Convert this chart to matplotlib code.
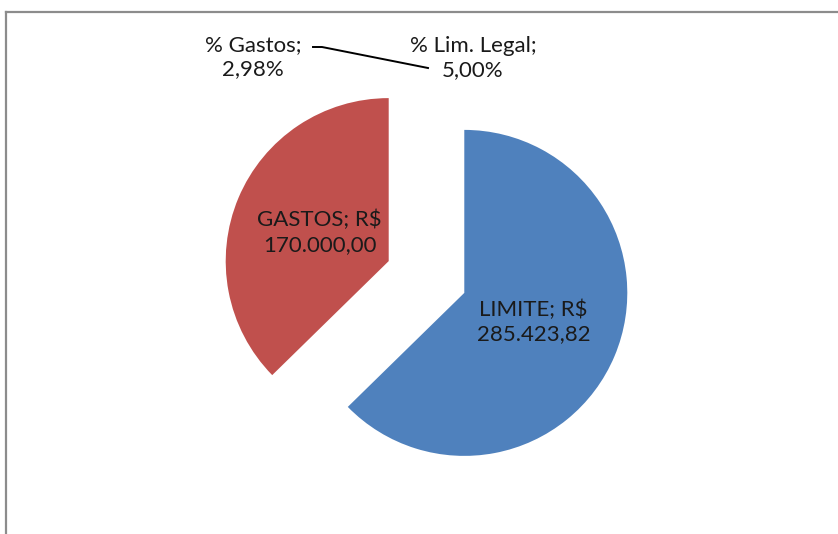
import matplotlib.pyplot as plt
from matplotlib.lines import Line2D
import numpy as np

plt.rcParams['font.family'] = ['Lato', 'DejaVu Sans']

# data
categories = ['LIMITE', 'GASTOS', '% Gastos', '% Lim. Legal']
values = [285423.82, 170000.00, 0.0298, 0.05]
colors = ['#4F81BD', '#C0504D', '#9BBB59', '#8064A2']


def brl(v):
    s = f'{v:,.2f}'
    return s.replace(',', 'X').replace('.', ',').replace('X', '.')


fig = plt.figure(figsize=(8.38, 5.34), dpi=100)
ax = fig.add_axes([0, 0, 1, 1])

W, H = 838, 534
cx, cy, r = 426.5, 257, 163
wedges, _ = ax.pie(values, colors=colors, startangle=90, counterclock=False,
                   explode=[41, 41, 0, 0], center=(cx, cy), radius=r,
                   wedgeprops=dict(linewidth=0))
ax.set_xlim(0, W)
ax.set_ylim(0, H)
ax.set_aspect('equal')
ax.axis('off')

# data labels inside the two large slices
for w, cat, v in zip(wedges[:2], categories[:2], values[:2]):
    mid = np.deg2rad((w.theta1 + w.theta2) / 2)
    x0, y0 = w.center
    ax.text(x0 + 0.46 * r * np.cos(mid), y0 + 0.46 * r * np.sin(mid),
            f'{cat}; R$\n{brl(v)}', ha='center', va='center',
            fontsize=16, color='#1a1a1a', linespacing=1.3)

# labels for the tiny percentage slices
ax.text(253, 477, f'{categories[2]};\n{brl(values[2] * 100)}%', ha='center',
        va='center', fontsize=16, color='#1a1a1a', linespacing=1.3)
ax.text(473, 476, f'{categories[3]};\n{brl(values[3] * 100)}%', ha='center',
        va='center', fontsize=16, color='#1a1a1a', linespacing=1.3)
ax.plot([313, 322, 428], [487, 487, 466], color='black', lw=1.4)

# chart area border (left and top)
fig.add_artist(Line2D([6 / W, 6 / W], [0, 1 - 12 / H], color='#8c8c8c',
                      lw=1.6, transform=fig.transFigure))
fig.add_artist(Line2D([6 / W, 1], [1 - 12 / H, 1 - 12 / H], color='#8c8c8c',
                      lw=1.6, transform=fig.transFigure))

fig.savefig('out.png', dpi=100)
